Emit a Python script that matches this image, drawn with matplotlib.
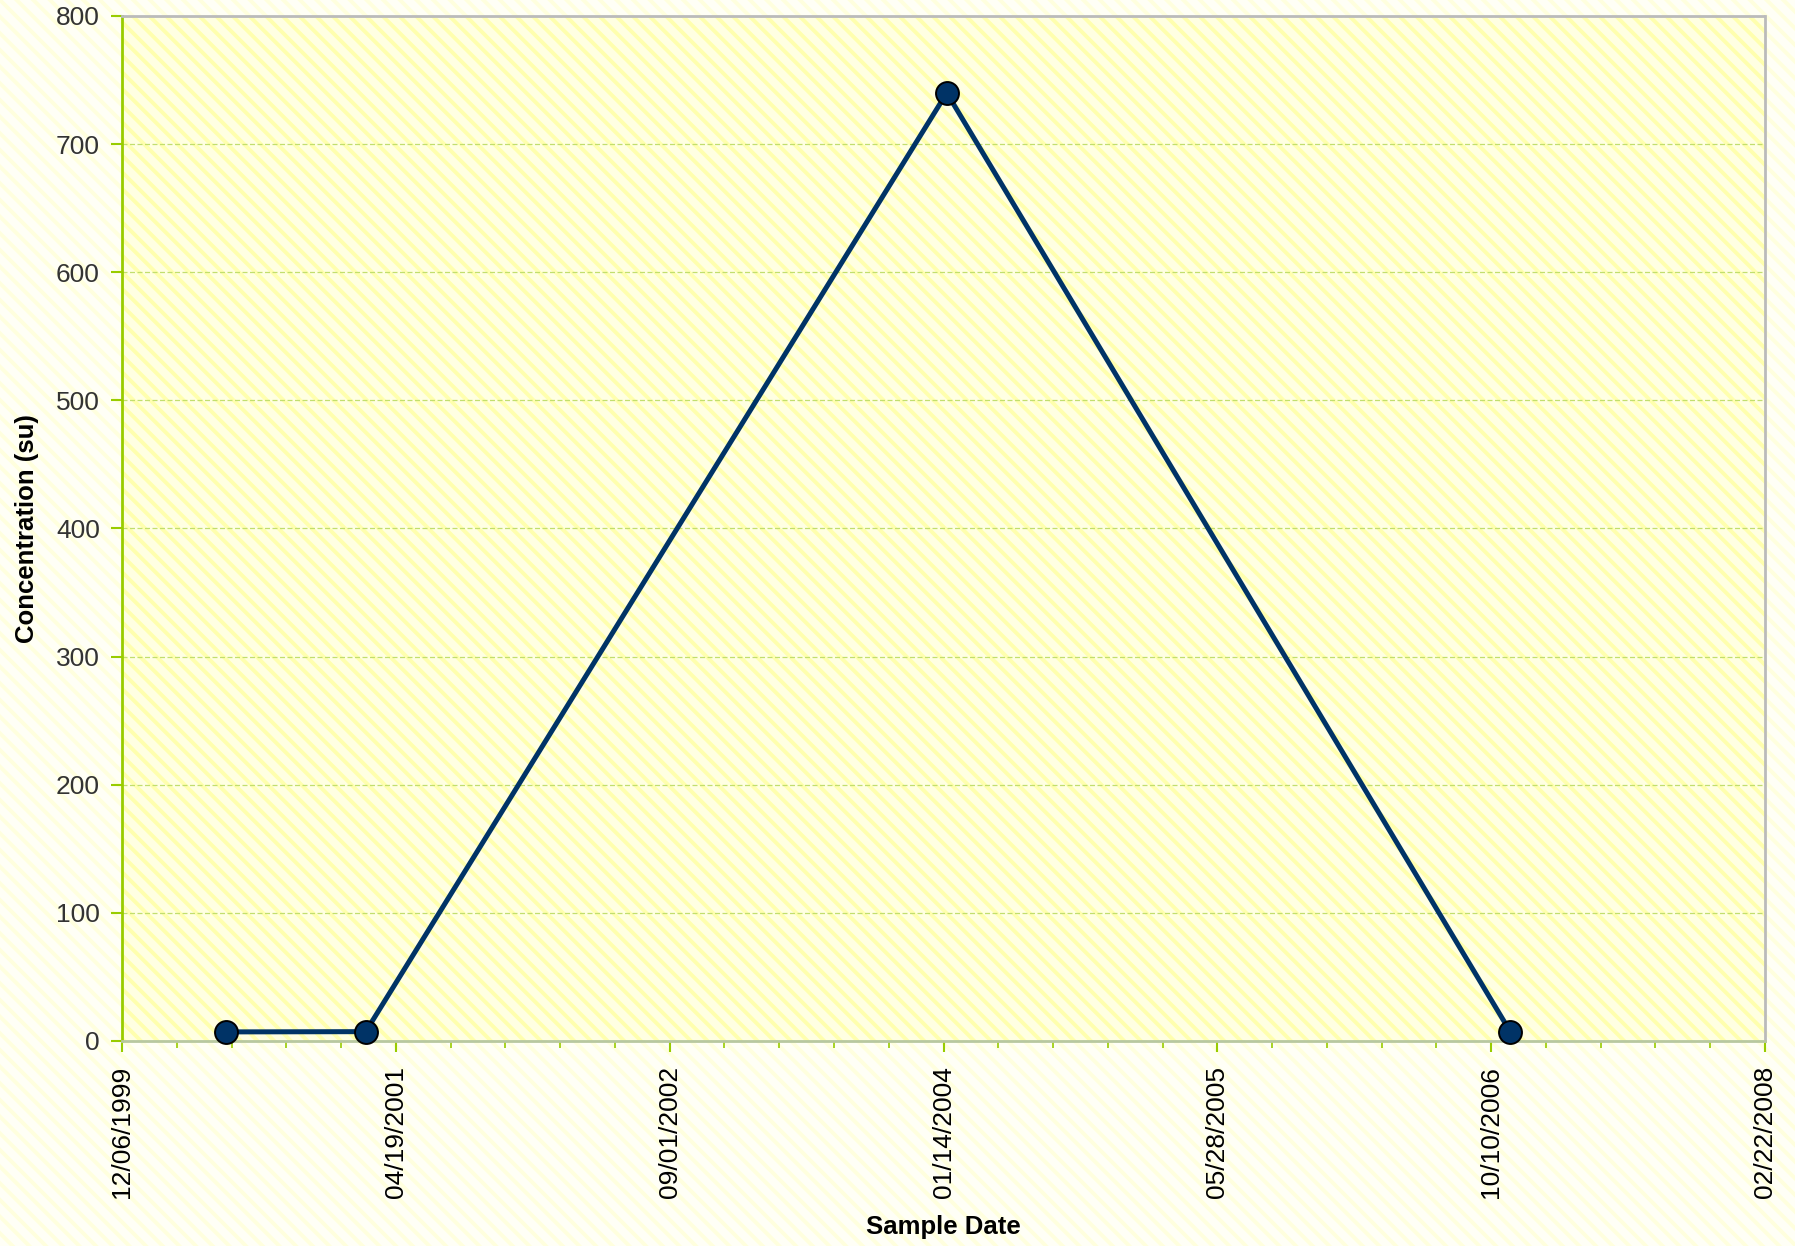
import numpy as np
import matplotlib
matplotlib.use("Agg")
import matplotlib.pyplot as plt
import matplotlib.dates as mdates

plt.rcParams['font.family'] = ['Liberation Sans', 'DejaVu Sans']
plt.rcParams['hatch.linewidth'] = 2.8

# data
sample_dates = np.array(['2000-06-12', '2001-02-23', '2004-01-20', '2006-11-14'], dtype='datetime64[D]')
conc = [7.1, 7.3, 740, 7.2]
x_start = np.datetime64('1999-12-06')
x_end = np.datetime64('2008-02-22')
y_ticks = [0, 100, 200, 300, 400, 500, 600, 700, 800]

fig = plt.figure(figsize=(17.95, 12.46), dpi=100)
fig.patch.set_facecolor('#FFFFF4')
# faint striped page background
bg = fig.add_axes([0, 0, 1, 1], zorder=-10)
bg.add_patch(plt.Rectangle((0, 0), 1, 1, facecolor='#FFFFF6', edgecolor='#FFFFDE',
                           hatch='\\\\', linewidth=0))
bg.set_axis_off()

ax = fig.add_axes([122 / 1795, 1 - 1041 / 1246, (1765 - 122) / 1795, (1041 - 16) / 1246])
ax.set_facecolor('none')
ax.add_patch(plt.Rectangle((0, 0), 1, 1, transform=ax.transAxes, facecolor='#FFFFE2',
                           edgecolor='#FFFFAE', hatch='\\\\', linewidth=0, zorder=0))

xd = mdates.date2num(sample_dates.astype('datetime64[s]').astype(object))
ax.plot(xd, conc, color='#003366', lw=3.6, marker='o', ms=16.5,
        mfc='#003366', mec='black', mew=1.4, zorder=5, clip_on=False)

x0 = mdates.date2num(x_start.astype(object))
x1 = mdates.date2num(x_end.astype(object))
ax.set_xlim(x0, x1)
ax.set_ylim(0, 800)

ax.set_xticks(np.arange(x0, x1 + 1, 500))
ax.set_xticks(np.arange(x0, x1 + 1, 100), minor=True)
ax.xaxis.set_major_formatter(mdates.DateFormatter('%m/%d/%Y'))
ax.set_yticks(y_ticks)

ax.grid(axis='y', color='#C2DE6E', linestyle=(0, (4, 2)), lw=0.9, zorder=1)
ax.set_axisbelow(True)

ax.tick_params(axis='x', which='major', direction='out', length=8, width=1.5,
               color='#99CC00', labelsize=19, labelcolor='black', pad=10, labelrotation=90)
ax.tick_params(axis='x', which='minor', direction='out', length=5, width=1.2, color='#99CC00')
ax.tick_params(axis='y', direction='out', length=8, width=1.5, color='#99CC00',
               labelsize=19, labelcolor='#333333', pad=8)

ax.spines['left'].set_color('#99CC00')
ax.spines['left'].set_linewidth(2)
ax.spines['bottom'].set_color('#B8C8A0')
ax.spines['bottom'].set_linewidth(2)
for s in ('top', 'right'):
    ax.spines[s].set_color('#BBBBBB')
    ax.spines[s].set_linewidth(2)
    ax.spines[s].set_linestyle((0, (3, 1)))

ax.set_xlabel('Sample Date', fontsize=18.5, fontweight='bold', labelpad=12)
ax.set_ylabel('Concentration (su)', fontsize=18.5, fontweight='bold', labelpad=12)

fig.savefig('out.png', dpi=100, facecolor=fig.get_facecolor())
